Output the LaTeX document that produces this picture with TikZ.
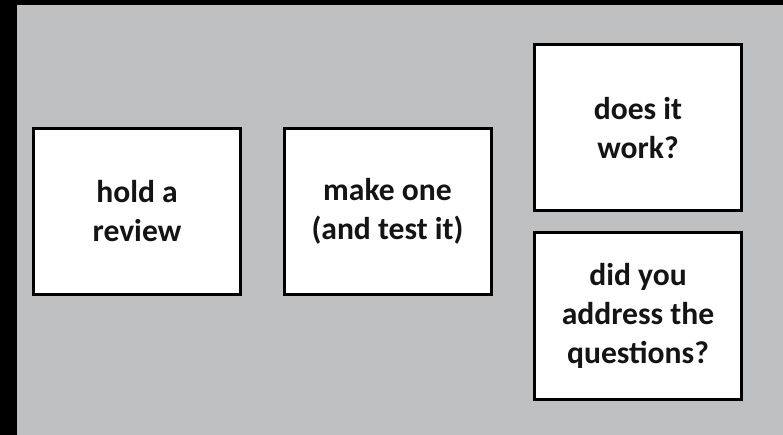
\documentclass[tikz,border=0pt]{standalone}
\usepackage{fontspec}
\setmainfont{Carlito}
\definecolor{bggray}{RGB}{191,192,194}
\definecolor{inkc}{RGB}{20,20,20}
\begin{document}
\begin{tikzpicture}[x=1pt,y=-1pt,
  card/.style={draw=black, fill=white, line width=3pt, minimum width=207pt, minimum height=166pt,
    inner sep=0pt, align=center, text=inkc,
    font=\bfseries\fontsize{31.6}{39}\selectfont}]
\useasboundingbox (0,0) rectangle (783,435);
\fill[black] (0,0) rectangle (783,435);
\fill[bggray] (17,5) rectangle (783,435);
\node[card] (review) at (137,211.5) {hold a\\review};
\node[card] (make) at (387.5,211.5) {make one\\(and test it)};
\node[card] (works) at (638,128) {does it\\work?};
\node[card] (address) at (638,316) {did you\\address the\\questions?};
\end{tikzpicture}
\end{document}
